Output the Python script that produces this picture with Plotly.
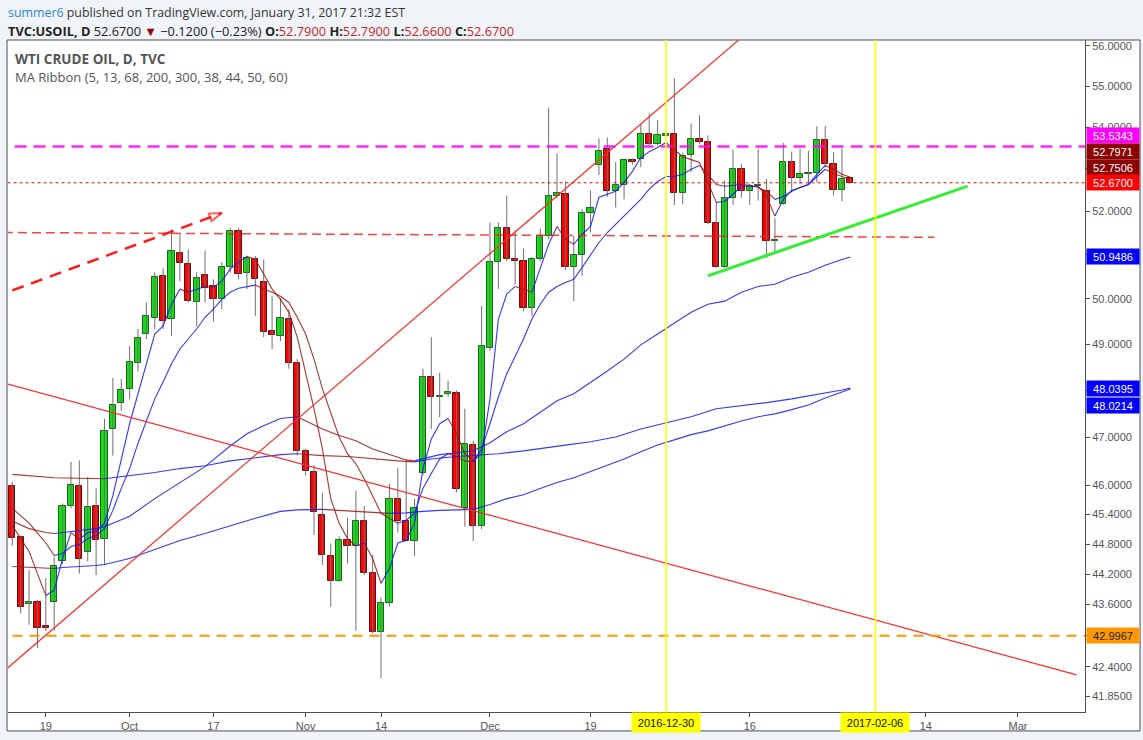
import numpy as np
import pandas as pd
import plotly.graph_objects as go

# ---------------- calendar (TVC daily bars, Jan 2 2017 skipped) ----------------
days = [d for d in pd.bdate_range("2016-09-13", "2017-03-10") if d != pd.Timestamp("2017-01-02")]
pos = {d.strftime("%Y-%m-%d"): i for i, d in enumerate(days)}

# ---------------- OHLC (USOIL daily) ----------------
opens = [45.99, 44.95, 43.62, 43.66, 43.18, 43.66, 44.47, 45.57, 45.99, 44.64,
         45.57, 44.91, 47.17, 47.73, 48.03, 48.58, 49.21, 49.57, 50.52, 49.55,
         51.05, 50.78, 49.92, 50.53, 50.28, 50.00, 50.71, 51.54, 50.59, 50.91,
         50.39, 49.28, 49.18, 49.55, 48.58, 46.71, 46.27, 45.38, 44.57, 44.07,
         44.88, 44.76, 45.26, 44.23, 43.06, 43.64, 45.71, 45.27, 44.87, 46.24,
         48.28, 47.85, 47.92, 47.93, 45.52, 46.83, 45.17, 48.91, 50.84, 51.62,
         50.91, 50.86, 49.79, 50.91, 51.42, 52.37, 52.41, 50.71, 51.00, 51.97,
         53.09, 53.48, 52.48, 52.62, 53.21, 53.24, 53.84, 53.60, 53.79, 53.84,
         52.44, 53.32, 53.72, 53.65, 51.74, 50.73, 52.32, 52.99, 52.47, 52.60,
         52.48, 51.32, 52.18, 53.17, 52.79, 52.89, 52.91, 53.68, 53.12, 52.50,
         52.79]
highs = [46.07, 44.97, 44.28, 43.69, 44.12, 44.55, 45.62, 46.48, 46.51, 46.17,
         45.93, 47.39, 48.26, 48.24, 48.96, 49.33, 49.92, 50.60, 50.69, 51.58,
         51.47, 51.12, 50.60, 51.10, 50.44, 50.83, 51.62, 51.62, 50.98, 50.97,
         50.89, 50.06, 50.01, 49.77, 48.67, 46.75, 46.41, 45.84, 44.81, 44.95,
         45.33, 45.88, 45.57, 44.58, 43.74, 46.03, 46.35, 46.52, 45.72, 48.46,
         49.15, 48.37, 48.20, 47.99, 47.60, 46.92, 49.84, 51.74, 51.74, 52.37,
         51.56, 51.14, 50.95, 51.60, 54.47, 53.37, 52.70, 51.43, 52.05, 52.49,
         53.73, 53.75, 53.16, 53.22, 53.25, 54.07, 54.33, 54.17, 53.86, 55.20,
         53.39, 54.09, 54.29, 53.80, 52.22, 52.72, 53.46, 53.12, 52.65, 53.48,
         52.76, 51.84, 53.62, 53.41, 53.48, 53.43, 54.02, 54.03, 53.40, 53.48,
         52.79]
lows = [44.77, 43.43, 43.21, 42.76, 43.09, 43.09, 44.40, 45.52, 44.21, 44.45,
        44.18, 44.38, 46.61, 47.55, 47.81, 48.40, 49.11, 49.33, 49.33, 49.18,
        50.40, 49.92, 49.39, 49.92, 49.49, 49.77, 50.60, 50.44, 50.22, 49.62,
        49.15, 48.89, 49.06, 48.46, 46.61, 46.20, 44.98, 44.38, 43.56, 44.05,
        44.41, 43.09, 44.18, 43.04, 42.19, 43.56, 45.03, 44.86, 44.56, 46.20,
        47.17, 47.42, 47.85, 45.85, 45.15, 44.86, 45.10, 48.85, 50.22, 50.85,
        50.32, 49.73, 49.62, 50.85, 51.35, 52.30, 50.65, 49.95, 50.52, 51.51,
        52.85, 52.34, 52.09, 52.28, 53.10, 53.04, 53.55, 53.55, 53.77, 52.15,
        52.16, 52.92, 53.60, 51.70, 50.70, 50.70, 52.15, 52.32, 52.15, 52.25,
        50.93, 51.06, 52.15, 52.44, 52.63, 52.63, 52.68, 53.03, 52.37, 52.24,
        52.66]
closes = [44.93, 43.56, 43.66, 43.14, 43.14, 44.36, 45.57, 46.01, 44.51, 45.55,
          44.88, 47.13, 47.67, 47.99, 48.60, 49.13, 49.62, 50.50, 49.51, 51.09,
          50.82, 49.95, 50.48, 50.25, 49.99, 50.73, 51.54, 50.57, 50.93, 50.44,
          49.26, 49.19, 49.57, 48.58, 46.70, 46.29, 45.45, 44.58, 44.07, 44.88,
          44.76, 45.26, 44.23, 43.06, 43.64, 45.71, 45.27, 44.87, 45.53, 48.28,
          47.85, 47.88, 47.96, 45.91, 46.86, 45.17, 48.95, 50.84, 51.62, 50.91,
          50.86, 49.79, 50.91, 51.42, 52.37, 52.42, 50.71, 51.00, 51.97, 52.09,
          53.43, 52.48, 52.62, 53.21, 53.17, 53.84, 53.60, 53.80, 53.84, 52.43,
          53.30, 53.72, 53.65, 51.74, 50.73, 52.32, 52.99, 52.48, 52.60, 52.61,
          51.31, 51.34, 53.17, 52.79, 52.88, 52.90, 53.68, 53.12, 52.50, 52.77,
          52.67]

# ---------------- MA ribbon lines ----------------
ma5 = [45.17, 44.91, 44.65, 44.21, 43.78, 43.88, 44.51, 45.03, 44.89, 45.03,
       45.05, 45.22, 45.78, 46.54, 47.28, 47.92, 48.57, 49.22, 49.40, 49.88,
       50.22, 50.15, 50.22, 50.28, 50.26, 50.40, 50.67, 50.83, 50.96, 50.89,
       50.56, 50.22, 49.99, 49.70, 49.15, 48.39, 47.60, 46.75, 45.72, 45.22,
       44.91, 44.76, 44.82, 44.51, 44.02, 44.31, 44.82, 44.87, 45.22, 46.34,
       46.96, 47.28, 47.39, 47.07, 46.65, 46.50, 46.65, 47.81, 49.55, 50.11,
       50.28, 50.22, 50.15, 50.67, 51.24, 51.65, 51.35, 51.24, 51.47, 51.65,
       52.33, 52.40, 52.47, 52.68, 52.94, 53.27, 53.41, 53.51, 53.63, 53.46,
       53.29, 53.22, 53.15, 52.68, 52.21, 52.23, 52.40, 52.59, 52.59, 52.59,
       52.35, 51.89, 52.28, 52.49, 52.56, 52.63, 52.87, 53.08, 52.99, 52.87,
       52.80]
ma13 = [45.52, 45.37, 45.22, 45.02, 44.82, 44.57, 44.61, 44.75, 44.79, 44.91,
        44.97, 45.11, 45.48, 45.93, 46.34, 46.87, 47.34, 47.81, 48.18, 48.57,
        48.89, 49.11, 49.33, 49.59, 49.77, 49.99, 50.15, 50.24, 50.28, 50.31,
        50.22, 50.15, 50.06, 49.92, 49.59, 49.22, 48.67, 48.03, 47.49, 47.00,
        46.65, 46.44, 46.13, 45.76, 45.42, 45.32, 45.22, 45.28, 45.42, 45.93,
        46.24, 46.54, 46.65, 46.59, 46.50, 46.48, 46.75, 47.28, 47.85, 48.35,
        48.74, 49.11, 49.55, 49.88, 50.15, 50.28, 50.37, 50.44, 50.71, 51.01,
        51.28, 51.51, 51.70, 51.89, 52.09, 52.28, 52.52, 52.70, 52.82, 52.82,
        52.87, 52.99, 53.08, 52.87, 52.63, 52.59, 52.61, 52.63, 52.61, 52.56,
        52.47, 52.28, 52.35, 52.47, 52.56, 52.63, 52.80, 52.99, 52.89, 52.82,
        52.75]
ma68_bar = [0, 2, 4, 5, 6, 8, 10, 11, 14, 17, 20, 23, 26, 28, 30, 32, 34, 35, 37, 39,
            41, 43, 45, 47, 48, 49, 51, 53, 55, 57, 59, 61, 63, 65, 67, 69, 71, 73, 75, 77,
            79, 81, 83, 85, 87, 89, 91, 93, 95, 97, 99, 100]
ma68 = [45.26, 45.11, 45.03, 45.01, 45.03, 45.07, 45.11, 45.15, 45.36, 45.72,
        46.05, 46.38, 46.81, 47.07, 47.24, 47.39, 47.43, 47.34, 47.17, 47.03,
        46.92, 46.75, 46.63, 46.52, 46.50, 46.54, 46.63, 46.67, 46.71, 46.88,
        47.11, 47.28, 47.53, 47.77, 47.92, 48.16, 48.41, 48.67, 48.98, 49.22,
        49.46, 49.70, 49.88, 49.95, 50.15, 50.28, 50.33, 50.49, 50.60, 50.76,
        50.89, 50.95]
ma200_bar = [0, 5, 11, 14, 17, 20, 23, 26, 29, 32, 34, 37, 40, 43, 46, 48, 50, 53, 55, 58,
             61, 64, 66, 69, 72, 75, 78, 81, 84, 87, 90, 93, 96, 99, 100]
ma200 = [46.22, 46.15, 46.13, 46.19, 46.26, 46.34, 46.40, 46.50, 46.56, 46.63,
         46.65, 46.61, 46.59, 46.54, 46.50, 46.48, 46.54, 46.59, 46.61, 46.65,
         46.71, 46.79, 46.83, 46.90, 47.00, 47.17, 47.30, 47.43, 47.60, 47.66,
         47.73, 47.81, 47.90, 48.00, 48.04]
ma300_bar = [0, 5, 6, 10, 11, 14, 17, 20, 23, 26, 29, 32, 34, 37, 40, 43, 45, 47, 49, 51,
             55, 57, 59, 61, 63, 65, 67, 69, 71, 73, 75, 77, 79, 81, 83, 85, 87, 89, 91, 93,
             95, 97, 99, 100]
ma300 = [44.35, 44.31, 44.33, 44.37, 44.39, 44.51, 44.69, 44.87, 45.01, 45.17,
         45.32, 45.46, 45.49, 45.50, 45.47, 45.44, 45.42, 45.43, 45.46, 45.48,
         45.50, 45.60, 45.72, 45.80, 45.93, 46.05, 46.15, 46.28, 46.40, 46.54,
         46.69, 46.83, 46.94, 47.05, 47.13, 47.24, 47.34, 47.43, 47.49, 47.58,
         47.68, 47.83, 47.96, 48.02]

# ---------------- drawings (date, price) ----------------
up_trend_dates = ["2016-09-12", "2017-01-25"]
up_trend_price = [42.32, 57.68]
down_trend_dates = ["2016-09-12", "2017-03-10"]
down_trend_price = [48.15, 42.25]
green_line_dates = ["2017-01-09", "2017-02-21"]
green_line_price = [50.52, 52.59]
red_dash_dates = ["2016-09-12", "2017-02-15"]
red_dash_price = [51.51, 51.40]
arrow_dates = ["2016-09-13", "2016-10-18"]
arrow_price = [50.19, 51.96]
magenta_level = 53.5343
orange_level = 42.9967
last_price = 52.67
vlines = ["2016-12-30", "2017-02-06"]

# right-axis price labels: value, background, text colour
price_labels = [53.5343, 52.7971, 52.7506, 52.6700, 50.9486, 48.0395, 48.0214, 42.9967]
label_bg = ["#ff00ff", "#8b0000", "#8b0000", "#ff0000", "#0000ff", "#0000ff", "#0000ff", "#ff9800"]
label_fg = ["white", "white", "white", "white", "white", "white", "white", "#222222"]
label_shift = [11, 26, 12, 0, 0, 0, -16, 0]

y_ticks = [41.85, 42.4, 43.0, 43.6, 44.2, 44.8, 45.4, 46, 47, 48, 49, 50, 51, 52, 53, 54, 55, 56]
x_tick_dates = ["2016-09-19", "2016-10-03", "2016-10-17", "2016-11-01", "2016-11-14", "2016-12-01",
                "2016-12-19", "2017-01-03", "2017-01-16", "2017-02-01", "2017-02-14", "2017-03-01"]
x_tick_text = ["19", "Oct", "17", "Nov", "14", "Dec", "19", "Jan", "16", "Feb", "14", "Mar"]


def bx(d):
    if d in pos:
        return pos[d]
    # date before the first bar
    return (pd.Timestamp(d) - days[0]).days


RISE = "rgba(20,20,255,0.85)"
FALL = "rgba(150,20,20,0.85)"
AXC = "#4d4d4d"
FONT = "Arial, Liberation Sans, sans-serif"

fig = go.Figure()

n = len(closes)
xb = list(range(n))

# wicks
wx, wy = [], []
for i in range(n):
    wx += [i, i, None]
    wy += [lows[i], highs[i], None]
fig.add_trace(go.Scatter(x=wx, y=wy, mode="lines", line=dict(color="#6f6f6f", width=1),
                         hoverinfo="skip", showlegend=False))


def ribbon(xs, vs):
    runs = []
    cur = None
    for k in range(len(xs) - 1):
        up = vs[k + 1] >= vs[k]
        if cur is None or cur[0] != up:
            cur = [up, [xs[k]], [vs[k]]]
            runs.append(cur)
        cur[1].append(xs[k + 1])
        cur[2].append(vs[k + 1])
    for up, x, y in runs:
        fig.add_trace(go.Scatter(x=x, y=y, mode="lines",
                                 line=dict(color=RISE if up else FALL, width=1.1),
                                 hoverinfo="skip", showlegend=False))


ribbon(ma300_bar, ma300)
ribbon(ma200_bar, ma200)
ribbon(ma68_bar, ma68)
ribbon(xb, ma13)
ribbon(xb, ma5)

# trend lines
fig.add_trace(go.Scatter(x=[bx(d) for d in down_trend_dates], y=down_trend_price, mode="lines",
                         line=dict(color="#ff2a2a", width=1.2), hoverinfo="skip", showlegend=False))
fig.add_trace(go.Scatter(x=[bx(d) for d in up_trend_dates], y=up_trend_price, mode="lines",
                         line=dict(color="#ff2a2a", width=1.2), hoverinfo="skip", showlegend=False))

# candle bodies
bc = ["#10e010" if c >= o else "#ff0000" for o, c in zip(opens, closes)]
bl = ["#1f5f1f" if c >= o else "#5a1515" for o, c in zip(opens, closes)]
fig.add_trace(go.Bar(x=xb, base=[min(o, c) for o, c in zip(opens, closes)],
                     y=[abs(c - o) for o, c in zip(opens, closes)], width=0.74,
                     marker=dict(color=bc, line=dict(color=bl, width=1)),
                     hoverinfo="skip", showlegend=False))

# horizontal levels
xfull = [-2, 130]
fig.add_trace(go.Scatter(x=xfull, y=[magenta_level] * 2, mode="lines",
                         line=dict(color="rgba(255,0,255,0.85)", width=2.5, dash="12px,7px"),
                         hoverinfo="skip", showlegend=False))
fig.add_trace(go.Scatter(x=xfull, y=[orange_level] * 2, mode="lines",
                         line=dict(color="#ff9800", width=2, dash="10px,7px"),
                         hoverinfo="skip", showlegend=False))
fig.add_trace(go.Scatter(x=xfull, y=[last_price] * 2, mode="lines",
                         line=dict(color="#d01010", width=1, dash="dot"),
                         hoverinfo="skip", showlegend=False))
fig.add_trace(go.Scatter(x=[bx(d) for d in red_dash_dates], y=red_dash_price, mode="lines",
                         line=dict(color="rgba(255,30,30,0.85)", width=1.5, dash="9px,5px"),
                         hoverinfo="skip", showlegend=False))
fig.add_trace(go.Scatter(x=[bx(d) for d in green_line_dates], y=green_line_price, mode="lines",
                         line=dict(color="#33ee33", width=3), hoverinfo="skip", showlegend=False))
fig.add_trace(go.Scatter(x=[bx(d) for d in arrow_dates], y=arrow_price, mode="lines+markers",
                         line=dict(color="#ff1a1a", width=2.5, dash="12px,8px"),
                         marker=dict(symbol="arrow-open", size=[0, 13], angleref="previous",
                                     color="#ff1a1a", line=dict(color="#ff1a1a", width=2)),
                         hoverinfo="skip", showlegend=False))

shapes = []
# outer frame
shapes.append(dict(type="rect", xref="paper", yref="paper", x0=-0.0009, x1=1.0511, y0=-0.0282, y1=1.0,
                   fillcolor="white", line=dict(color=AXC, width=1), layer="below"))
for d in vlines:
    shapes.append(dict(type="line", xref="x", yref="paper", x0=pos[d], x1=pos[d], y0=0, y1=1,
                       line=dict(color="#ffff00", width=1.6)))

ann = []
for v, bg, fg, sh in zip(price_labels, label_bg, label_fg, label_shift):
    ann.append(dict(x=1, xref="paper", xanchor="left", xshift=1, y=np.log10(v), yref="y",
                    yanchor="middle", yshift=sh, text=f"{v:.4f}", showarrow=False,
                    bgcolor=bg, font=dict(color=fg, size=11, family=FONT),
                    width=50, height=13, borderpad=1, align="center"))
for d in vlines:
    ann.append(dict(x=pos[d], xref="x", y=0, yref="paper", yanchor="top", yshift=0,
                    text=d, showarrow=False, bgcolor="#ffff00",
                    font=dict(color="#111111", size=11, family=FONT),
                    width=64, height=15, borderpad=2))

HF = "Open Sans, Noto Sans, sans-serif"
ann.append(dict(x=0, xref="paper", xanchor="left", xshift=-2, y=1, yref="paper", yanchor="middle",
                yshift=28, showarrow=False, align="left",
                text="<span style='color:#2a88d0'>summer6</span> published on TradingView.com, January 31, 2017 21:32 EST",
                font=dict(size=12.4, color="#333333", family=HF)))
ann.append(dict(x=0, xref="paper", xanchor="left", xshift=-2, y=1, yref="paper", yanchor="middle",
                yshift=9, showarrow=False, align="left",
                text=("<b>TVC:USOIL, D</b> 52.6700 <span style='color:#8b0000'>▼</span> −0.1200 (−0.23%) "
                      "<b>O:</b><span style='color:#c62828'>52.7900</span> "
                      "<b>H:</b><span style='color:#c62828'>52.7900</span> "
                      "<b>L:</b><span style='color:#c62828'>52.6600</span> "
                      "<b>C:</b><span style='color:#c62828'>52.6700</span>"),
                font=dict(size=12.8, color="#222222", family=HF)))
ann.append(dict(x=0, xref="paper", xanchor="left", xshift=5, y=1, yref="paper", yanchor="middle",
                yshift=-19, showarrow=False, align="left", text="<b>WTI CRUDE OIL, D, TVC</b>",
                font=dict(size=13.5, color="#555555", family=HF)))
ann.append(dict(x=0, xref="paper", xanchor="left", xshift=5, y=1, yref="paper", yanchor="middle",
                yshift=-37, showarrow=False, align="left",
                text="MA Ribbon (5, 13, 68, 200, 300, 38, 44, 50, 60)",
                font=dict(size=13, color="#555555", family=HF)))

fig.update_layout(
    width=1143, height=740,
    margin=dict(l=8, r=58, t=40, b=26),
    paper_bgcolor="#f0f3f7", plot_bgcolor="white",
    showlegend=False, bargap=0,
    shapes=shapes, annotations=ann,
    xaxis=dict(range=[-0.513, 128.0], showgrid=False, zeroline=False, showline=True,
               linecolor=AXC, linewidth=1, ticks="outside", ticklen=4, tickcolor=AXC,
               tickvals=[pos[d] for d in x_tick_dates], ticktext=x_tick_text,
               tickfont=dict(size=11, color="#555555", family=FONT)),
    yaxis=dict(type="log", range=[1.61859, 1.74935], side="right", showgrid=False,
               zeroline=False, showline=True, linecolor=AXC, linewidth=1,
               ticks="outside", ticklen=4, tickcolor=AXC,
               tickvals=y_ticks, ticktext=[f"{v:.4f}" for v in y_ticks],
               tickfont=dict(size=11, color="#555555", family=FONT)),
)

fig.write_html("out.html", config={"displayModeBar": False},
               post_script="document.body.style.margin='0';")
